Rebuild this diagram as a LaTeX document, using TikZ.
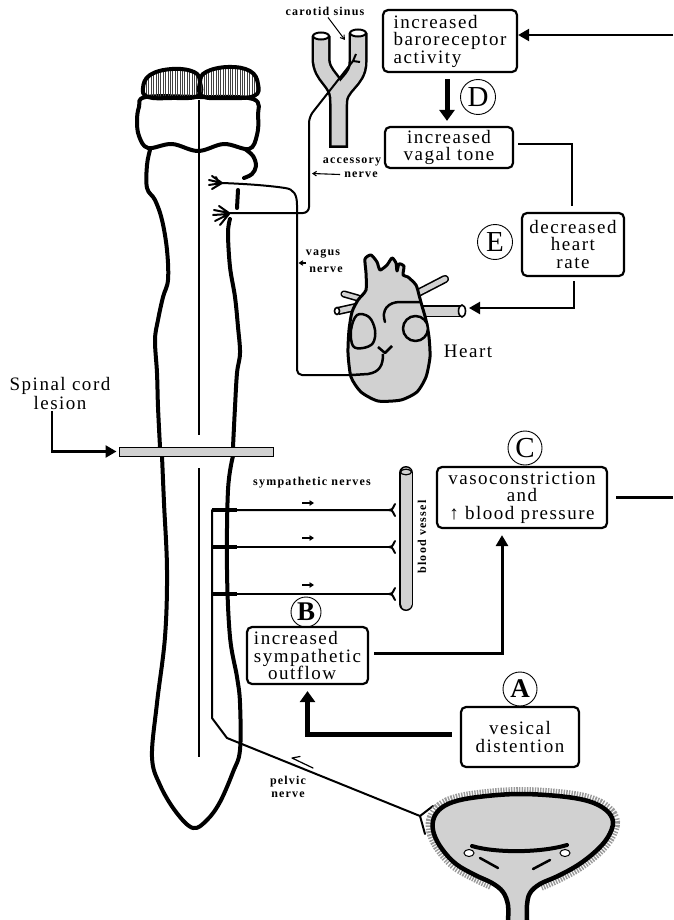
\documentclass[tikz,border=0pt]{standalone}
\usepackage{fontspec}
\setmainfont{Liberation Serif}
\newfontfamily\boxfont[LetterSpace=8]{Liberation Serif}
\newfontfamily\notefont[LetterSpace=10]{Liberation Serif}
\usetikzlibrary{arrows.meta,patterns.meta}

\tikzset{
  box/.style={draw, line width=2.2pt, rounded corners=5pt, inner sep=0pt, fill=white,
    font=\boxfont\fontsize{19}{17.5}\selectfont},
  tagcircle/.style={draw, circle, line width=0.9pt, inner sep=0pt, minimum size=#1,
    font=\fontsize{29}{29}\selectfont},
  note/.style={font=\notefont\bfseries\fontsize{12}{13}\selectfont, inner sep=0pt, align=center},
  bodytext/.style={font=\boxfont\fontsize{19}{19}\selectfont, inner sep=0pt, align=center},
  flow/.style={line width=2.2pt, -{Triangle[length=11pt,width=12pt]}},
  heavyflow/.style={line width=5pt, -{Triangle[length=11pt,width=15pt]}},
  link/.style={line width=2.2pt},
  nerve/.style={line width=2pt, line join=round},
  cord/.style={line width=4pt, line cap=round, line join=round},
  organ/.style={line width=2.5pt, line join=round, fill=black!18},
  tube/.style={line width=1.6pt, double=black!18},
  tick/.style={line width=1.1pt, -{Straight Barb[length=3.5pt,width=4.5pt]}},
  stipple/.style={fill=black!18},
}

\newcommand\bladderrim{plot[smooth, tension=0.6] coordinates {(508,920) (508,905) (503,892) (492,883) (475,875) (456,864) (442,849) (434,834) (433,821) (439,810) (453,802) (478,797) (517,794) (558,796) (588,801) (606,810) (613,822) (608,837) (596,851) (578,865) (558,876) (540,884) (530,893) (527,905) (527,920)}}
\newcommand\bladderhalo{plot[smooth, tension=0.6] coordinates {(492,883) (475,875) (456,864) (442,849) (434,834) (433,821) (439,810) (453,802) (478,797) (517,794) (558,796) (588,801) (606,810) (613,822) (608,837) (596,851) (578,865) (558,876) (540,884)}}

\begin{document}
\begin{tikzpicture}[x=1pt,y=-1pt]
\useasboundingbox (0,0) rectangle (673,920);

% ---------- brain stem and spinal cord ----------
\draw[cord, fill=white] plot[smooth cycle, tension=0.6] coordinates {(146,97) (139,107) (137,121) (139,136) (148,148) (172,144) (198,151) (224,144) (249,149) (257,135) (258,116) (253,99) (200,97)};
\draw[cord, pattern={Lines[angle=90,distance=2.4pt,line width=0.8pt]}, pattern color=black!75]
  plot[smooth cycle, tension=0.7] coordinates {(143,88) (150,75) (172,69) (194,72) (200,82) (198,96) (172,98) (148,97)};
\draw[cord, pattern={Lines[angle=90,distance=2.4pt,line width=0.8pt]}, pattern color=black!75]
  plot[smooth cycle, tension=0.7] coordinates {(200,82) (206,72) (228,67) (250,71) (258,84) (254,96) (226,98) (202,96)};

\draw[cord] plot[smooth, tension=0.6] coordinates {(150,150) (147,165) (147,188) (155,200) (162,220) (167,250) (168,280) (163,297) (158,320) (155,340) (157,373) (158,407) (160,447)};
\draw[cord] plot[smooth, tension=0.6] coordinates {(162,456) (164,503) (167,570) (165,637) (157,703) (152,757) (160,785) (176,812) (193,828) (207,820) (220,802) (233,772) (240,750) (240,703) (237,677) (230,637) (227,570) (228,490) (233,456)};
\draw[cord] plot[smooth, tension=0.6] coordinates {(233,447) (235,407) (237,373) (240,353) (238,327) (235,297) (230,267) (228,233) (230,219)};
\draw[cord] (238,190) -- (237,208);
\draw[cord] plot[smooth, tension=0.6] coordinates {(245,149) (253,156) (256,166) (252,174) (244,178)};

\draw[line width=1.8pt] (199,100) -- (199,435);
\draw[line width=1.8pt] (199,468) -- (199,757);

% ---------- carotid artery ----------
\draw[line width=19pt] (321,36) -- (321,58) .. controls (321,78) and (338.5,80) .. (338.5,100) -- (338.5,148);
\draw[line width=19pt] (358,33) -- (358,62) .. controls (358,82) and (338.5,84) .. (338.5,104);
\draw[line width=14pt, black!18] (321,36.5) -- (321,58) .. controls (321,78) and (338.5,80) .. (338.5,100) -- (338.5,145.5);
\draw[line width=14pt, black!18] (358,33.5) -- (358,62) .. controls (358,82) and (338.5,84) .. (338.5,104);
\draw[line width=2pt, fill=white] (321,36) ellipse [x radius=8, y radius=3.5];
\draw[line width=2pt, fill=white] (358,33) ellipse [x radius=8, y radius=3.5];

% ---------- nerves from the brain stem ----------
\draw[nerve] (222,183) .. controls (250,184) and (272,186) .. (285,188) .. controls (294,189) and (297,195) .. (297,205) [rounded corners=5pt] -- (297,375) -- (354,375);
\draw[nerve, rounded corners=6pt] (228,213) -- (309,213) -- (309,117) -- (353,61);
\draw[nerve] (353,61) -- (356,54) (353,61) -- (360,62);
% nerve roots
\draw[nerve, line cap=round] (222,183) -- (212,176) (222,183) -- (209,180) (222,183) -- (209,185) (222,183) -- (212,189) (218,181) -- (216,177);
\draw[nerve, line cap=round] (229,213) -- (219,206) (229,213) -- (214,210) (229,214) -- (213,215) (229,214) -- (215,221) (229,214) -- (220,225);

% ---------- heart ----------
\draw[tube, double distance=9pt] (416,311) -- (462,311);
\draw[line width=1.6pt, fill=white] (462,311) ellipse [x radius=3.5, y radius=6];
\draw[tube, double distance=5pt, line cap=round] (416,294) -- (445,279);
\draw[tube, double distance=5pt] (356,307) -- (338,311);
\draw[line width=1.6pt, fill=white] (337,311) ellipse [x radius=2.5, y radius=3.5];
\draw[tube, double distance=4pt, line cap=round] (358,298) -- (344,294);
\draw[organ, line width=3pt] plot[smooth cycle, tension=0.4] coordinates {(378,401) (401,400) (417,392) (426,377) (430,357) (429,337) (426,320) (422,306) (419,295) (416,285) (408,277) (403,275) (404,266) (399,264) (397,271) (396,263) (392,258) (387,265) (380,270) (377,262) (371,255) (365,259) (366,273) (366,290) (358,300) (352,312) (349,330) (348,353) (351,377) (361,392)};
\draw[line width=2.5pt, line cap=round] (385,322) .. controls (381,310) and (388,302) .. (400,302) -- (420,302);
\draw[organ] plot[smooth cycle, tension=0.6] coordinates {(357,315) (369,317) (375,330) (373,343) (363,348) (353,346) (351,330)};
\draw[organ] (415.5,328.5) ellipse [x radius=12.5, y radius=12.5];
\draw[line width=2.5pt] (352,375) -- (368,374) .. controls (380,372) and (383,365) .. (383,354);
\draw[line width=2.5pt, line join=round] (378,347) -- (385,353) -- (392,346);
\coordinate (heartport) at (469,308);

% ---------- sympathetic outflow ----------
\draw[black!18, line width=12pt, line cap=round] (406,473) -- (406,604);
\draw[tube, line width=1.5pt, double distance=11pt, line cap=round] (406,473) -- (406,604);
\draw[line width=1.2pt] (406,472) ellipse [x radius=5.5, y radius=2.8];

\draw[nerve] (390,510) -- (212,510) -- (212,718) -- (227,738) -- (420,816);
\draw[nerve] (212,547) -- (390,547);
\draw[nerve] (212,594) -- (390,594);
\foreach \yy in {510,547,594} {
  \draw[line width=3.5pt] (212,\yy) -- (237,\yy);
  \draw[nerve, line cap=round] (389,\yy) .. controls (392,\yy) .. (395,\yy-6) (389,\yy) .. controls (392,\yy) .. (395,\yy+6);
}
\draw[nerve, line cap=round] (420,816) -- (433,806) (420,816) -- (425,834);

% ---------- bladder ----------
\draw[line width=14pt, black!40, dash pattern=on 1.4pt off 1.2pt] \bladderhalo;
\fill[stipple] \bladderrim -- cycle;
\draw[line width=4.5pt, line cap=round] \bladderrim;
\draw[line width=4pt, line cap=round] (472,846) .. controls (495,853) and (540,853) .. (567,845);
\draw[line width=1pt, fill=white] (469,853) ellipse [x radius=5, y radius=3.5];
\draw[line width=1pt, fill=white] (565,853) ellipse [x radius=5, y radius=3.5];
\draw[line width=2.5pt, line cap=round] (480,858) -- (498,868) (533,869) -- (550,860);

% ---------- lesion ----------
\node[draw, line width=1pt, fill=black!18, minimum width=154pt, minimum height=9pt, inner sep=0pt] (lesion) at (196,451.5) {};
\node[bodytext] (lesionlab) at (60,393) {Spinal cord\\lesion};
\draw[flow, line width=2.5pt, shorten >=2pt] ([xshift=-8pt,yshift=-2pt]lesionlab.south) |- (lesion.west);

% ---------- reflex boxes ----------
\node[box, minimum width=134pt, minimum height=62pt, align=left] (baro) at (450,41) {increased\\baroreceptor\\activity};
\node[box, minimum width=128pt, minimum height=41pt, align=center] (vagal) at (449,147.5) {increased\\vagal tone};
\node[box, minimum width=102pt, minimum height=63pt, align=center] (rate) at (573,244.5) {decreased\\heart\\rate};
\node[box, minimum width=170pt, minimum height=61pt, align=center] (vaso) at (522,497.5) {vasoconstriction\\and\\↑ blood pressure};
\node[box, minimum width=121pt, minimum height=57pt, align=left] (outflow) at (307.5,655.5) {increased\\sympathetic\\\hspace*{14pt}outflow};
\node[box, minimum width=118pt, minimum height=60pt, align=center] (vesical) at (520,737) {vesical\\distention};

\node[tagcircle=35pt] (tagD) at (478,97) {D};
\node[tagcircle=35pt] (tagE) at (495,242) {E};
\node[tagcircle=34pt] (tagC) at (525,448) {C};
\node[tagcircle=30pt, font=\bfseries\fontsize{27}{27}\selectfont] (tagB) at (306,612) {B};
\node[tagcircle=34pt, font=\bfseries\fontsize{27}{27}\selectfont] (tagA) at (520,689) {A};

\coordinate (feedback) at (673,35);
\coordinate (pressureout) at (673,497.5);
\draw[flow] (feedback) -- ([yshift=6pt]baro.east);
\draw[heavyflow, shorten <=6pt, shorten >=5pt] ([xshift=-3pt]baro.south) -- ([xshift=-2pt]vagal.north);
\draw[link] ([xshift=4pt,yshift=3.5pt]vagal.east) -| ([xshift=-1pt,yshift=6pt]rate.north);
\draw[flow] ([xshift=1pt,yshift=-4pt]rate.south) |- (heartport);
\draw[flow, line width=3pt] ([xshift=5pt,yshift=2.5pt]outflow.east) -| ([xshift=-20pt,yshift=-6pt]vaso.south);
\draw[heavyflow] ([xshift=-8pt,yshift=3pt]vesical.west) -| ([yshift=-6pt]outflow.south);
\draw[link, line width=2.5pt] ([xshift=8pt]vaso.east) -- (pressureout);

% ---------- labels ----------
\node[note] (carotidlab) at (325,11) {carotid sinus};
\draw[line width=1pt, -{Straight Barb[length=4pt,width=5pt]}] ([xshift=3pt,yshift=-2pt]carotidlab.south) -- (345,40);
\node[note] (acclab) at (352,162) {accessory};
\node[note] (accnerve) at (361,174.5) {nerve};
\draw[tick] ([xshift=-4pt]accnerve.west) -- (312,173.5);
\node[note] (vaguslab) at (323,254) {vagus};
\node[note] (vagusnerve) at (326,270) {nerve};
\draw[tick] (306,263) -- (298.5,263);
\node[note] (symplab) at (312,483) {sympathetic nerves};
\foreach \yy in {503,538,585} \draw[tick] (302,\yy) -- (314,\yy);
\node[note, rotate=90] (vessellab) at (422,537) {blood vessel};
\node[note] (pelviclab) at (288,787) {pelvic\\nerve};
% afferent direction along the pelvic nerve
\draw[line width=1.2pt, line cap=round, line join=round] (313,768) -- (292,758) -- (300,756.5);
\node[bodytext] (heartlab) at (468,351) {Heart};
\end{tikzpicture}
\end{document}
